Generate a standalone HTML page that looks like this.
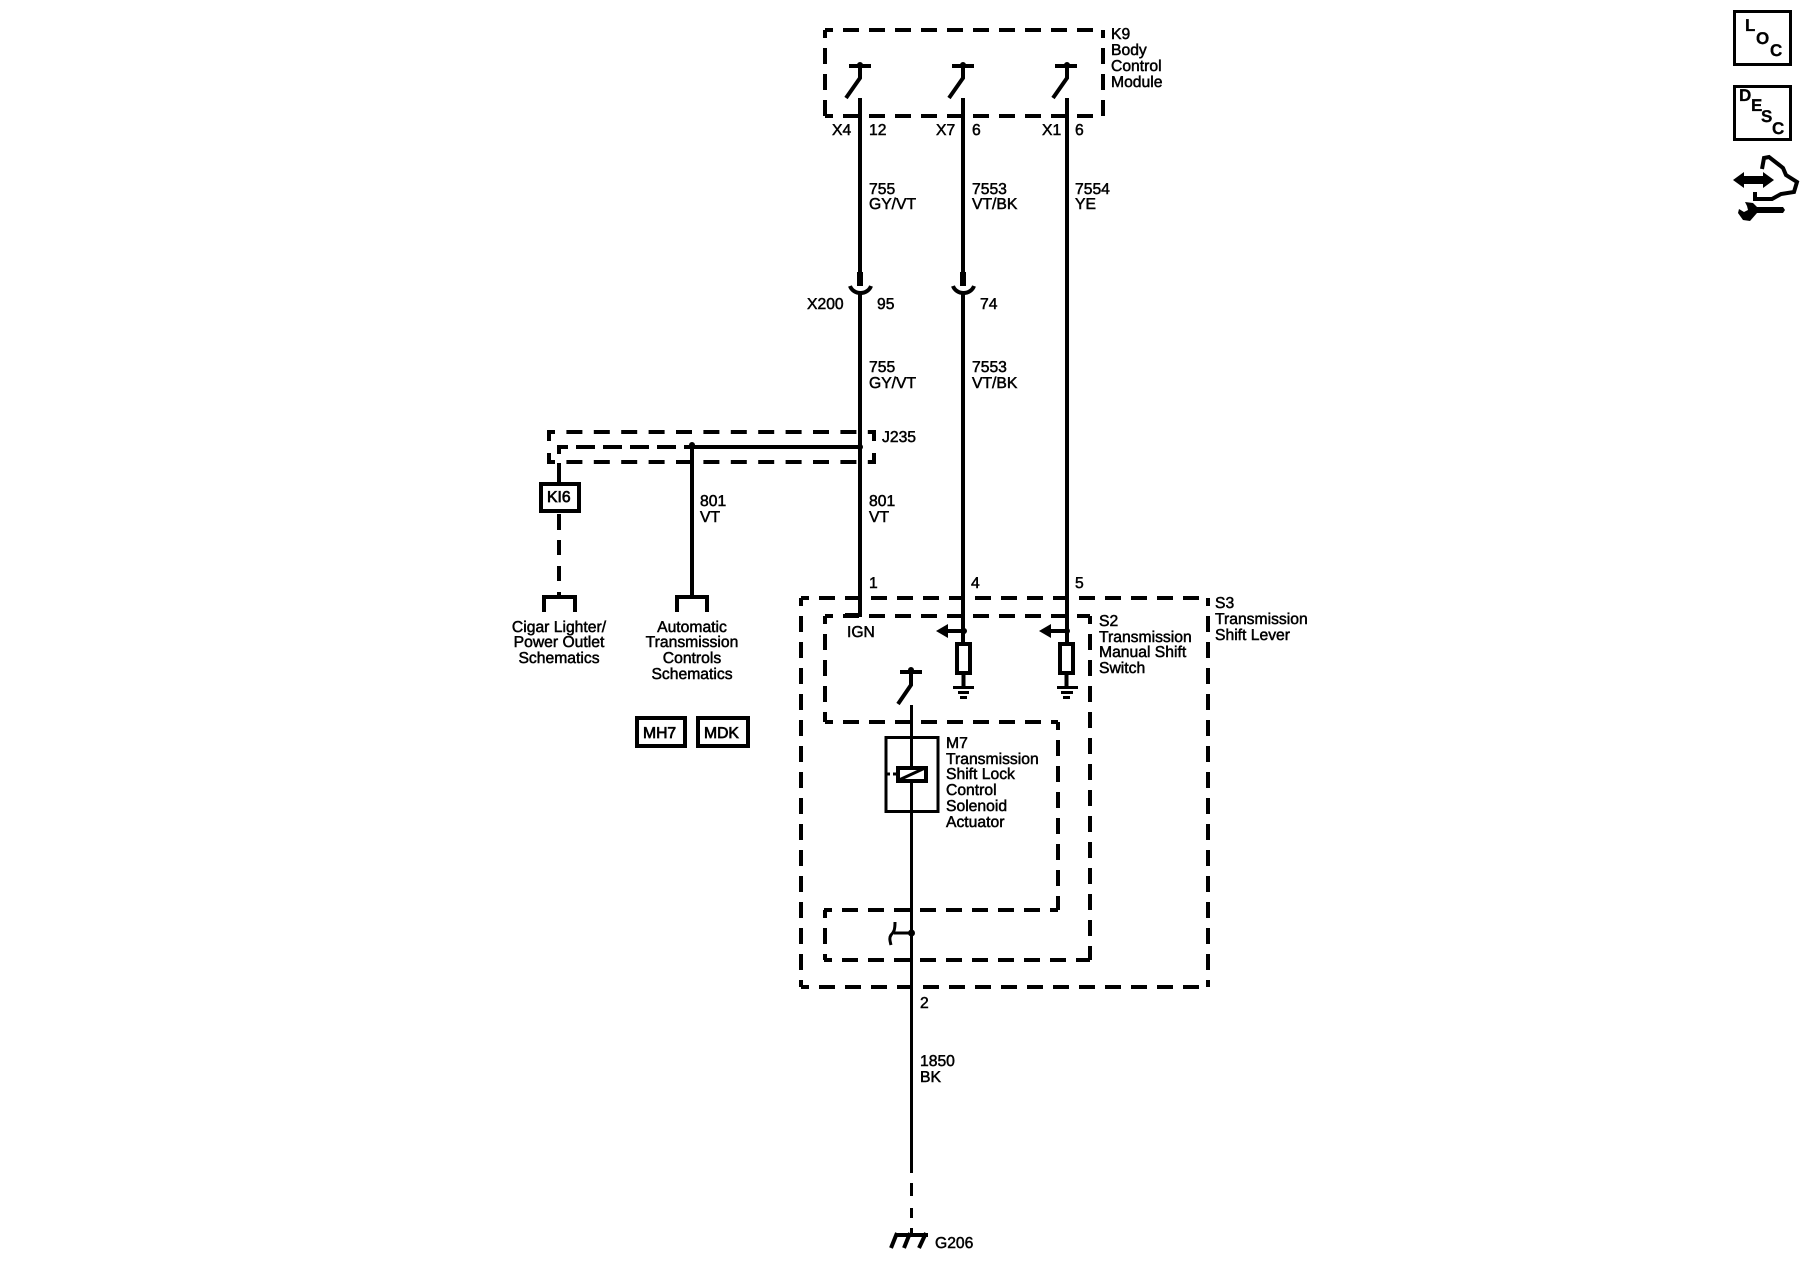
<!DOCTYPE html>
<html><head><meta charset="utf-8"><style>
html,body{margin:0;padding:0;background:#fff}
svg{display:block}
text{font-family:"Liberation Sans",sans-serif;font-size:15.7px;fill:#000;stroke:#000;stroke-width:.5px;text-rendering:geometricPrecision}
.m{text-anchor:middle}
.d{fill:none;stroke:#000;stroke-width:4;stroke-dasharray:16 10;stroke-dashoffset:8}
.j{fill:none;stroke:#000;stroke-width:4;stroke-dasharray:16 11.400;stroke-dashoffset:8}
.w{fill:none;stroke:#000;stroke-width:4}
.t{fill:none;stroke:#000;stroke-width:3}
.b{font-weight:bold;font-size:17px;stroke-width:.3px}
</style></head><body>
<svg width="1800" height="1280" viewBox="0 0 1800 1280" xmlns="http://www.w3.org/2000/svg">
<rect width="1800" height="1280" fill="#fff"/>

<!-- K9 -->
<path class="d" d="M825 30H1103"/><path class="d" d="M825 116H1103"/>
<path class="d" d="M825 30V116"/><path class="d" d="M1103 30V116"/>
<text x="1111" y="39">K9</text><text x="1111" y="55">Body</text><text x="1111" y="71">Control</text><text x="1111" y="87">Module</text>

<!-- K9 switches -->
<g id="sw">
<path class="w" d="M849 66H871"/><circle cx="860" cy="65" r="3"/><path class="w" d="M860 66V78L846 98"/>
<path class="w" d="M952 66H974"/><circle cx="963" cy="65" r="3"/><path class="w" d="M963 66V78L949 98"/>
<path class="w" d="M1055 66H1077"/><circle cx="1067" cy="65" r="3"/><path class="w" d="M1067 66V78L1053 98"/>
</g>

<!-- wires -->
<path class="w" d="M860 98V272M860 294V615H845"/>
<path class="w" d="M963 98V272M963 294V643"/>
<path class="w" d="M1067 98V643"/>
<path d="M857 272h6v14h-6zM960 272h6v14h-6z"/>
<path class="w" d="M850 286A11 10 0 0 0 871 286"/>
<path class="w" d="M953 286A11 10 0 0 0 974 286"/>

<text x="832" y="135">X4</text><text x="869" y="135">12</text>
<text x="936" y="135">X7</text><text x="972" y="135">6</text>
<text x="1042" y="135">X1</text><text x="1075" y="135">6</text>
<text x="869" y="194">755</text><text x="869" y="209">GY/VT</text>
<text x="972" y="194">7553</text><text x="972" y="209">VT/BK</text>
<text x="1075" y="194">7554</text><text x="1075" y="209">YE</text>
<text x="807" y="309">X200</text><text x="877" y="309">95</text><text x="980" y="309">74</text>
<text x="869" y="372">755</text><text x="869" y="388">GY/VT</text>
<text x="972" y="372">7553</text><text x="972" y="388">VT/BK</text>

<!-- J235 -->
<path class="j" d="M547 432H876"/><path class="j" d="M547 462H876"/>
<path class="w" d="M549 432V441M549 453V464"/>
<path class="w" d="M874 432V441M874 453V464"/>
<path d="M558 447H692" fill="none" stroke="#000" stroke-width="4" stroke-dasharray="19 8" stroke-dashoffset="9"/>
<path class="w" d="M559 445V454"/>
<path class="w" d="M692 447H860"/>
<circle cx="692" cy="445" r="3"/><circle cx="860" cy="447" r="3"/>
<path class="w" d="M692 447V597"/>
<text x="882" y="442">J235</text>

<!-- KI6 -->
<path d="M559 463V482" class="w"/>
<rect x="541" y="484" width="38" height="27" fill="#fff" stroke="#000" stroke-width="4"/>
<text x="547" y="502" style="stroke-width:.7px">KI6</text>
<path class="w" d="M559 514V530M559 540V555M559 566V581M559 592V597" />
<path class="w" d="M544 612V597H575V612"/>
<path class="w" d="M677 612V597H707V612"/>
<text class="m" x="559" y="632">Cigar Lighter/</text><text class="m" x="559" y="647">Power Outlet</text><text class="m" x="559" y="663">Schematics</text>
<text class="m" x="692" y="632">Automatic</text><text class="m" x="692" y="647">Transmission</text><text class="m" x="692" y="663">Controls</text><text class="m" x="692" y="679">Schematics</text>
<text x="700" y="506">801</text><text x="700" y="522">VT</text>
<text x="869" y="506">801</text><text x="869" y="522">VT</text>

<rect x="637" y="718" width="48" height="28" fill="none" stroke="#000" stroke-width="4"/>
<text x="643" y="738" style="stroke-width:.7px">MH7</text>
<rect x="698" y="718" width="50" height="28" fill="none" stroke="#000" stroke-width="4"/>
<text x="704" y="738" style="stroke-width:.7px">MDK</text>

<!-- S3 -->
<path class="d" d="M801 598H1208"/><path class="d" d="M801 987H1208"/>
<path class="d" d="M801 598V987"/><path class="d" d="M1208 598V987"/>
<text x="1215" y="608">S3</text><text x="1215" y="624">Transmission</text><text x="1215" y="640">Shift Lever</text>

<!-- S2 -->
<path class="d" d="M825 616H1090"/>
<path class="d" d="M825 616V722"/>
<path class="d" d="M825 722H1058"/>
<path class="d" d="M1058 722V910"/>
<path class="d" d="M824 910H1058"/>
<path class="d" d="M825 910V960"/>
<path class="d" d="M824 960H1090"/>
<path class="d" d="M1090 616V960"/>
<text x="1099" y="626">S2</text><text x="1099" y="642">Transmission</text><text x="1099" y="657">Manual Shift</text><text x="1099" y="673">Switch</text>

<text x="869" y="588">1</text><text x="971" y="588">4</text><text x="1075" y="588">5</text>
<text x="847" y="637">IGN</text>

<!-- arrows & resistors -->
<path d="M936 631L948 624V638Z"/><path class="w" d="M948 631H963"/><circle cx="964" cy="631" r="3"/>
<path d="M1039 631L1051 624V638Z"/><path class="w" d="M1051 631H1067"/><circle cx="1067" cy="631" r="3"/>
<rect x="957" y="644" width="13" height="29" fill="#fff" stroke="#000" stroke-width="4"/>
<rect x="1060" y="644" width="13" height="29" fill="#fff" stroke="#000" stroke-width="4"/>
<path class="w" d="M963.500 675V687M1066.500 675V687"/>
<path d="M953 686h21v3h-21zM958 691h11v3h-11zM960 696h7v3h-7zM1057 686h21v3h-21zM1061 691h12v3h-12zM1063 696h7v3h-7z"/>

<!-- lower switch + M7 -->
<path class="w" d="M900 672H922"/><circle cx="911" cy="670" r="3"/><path class="w" d="M911 672V685L898 704"/>
<path class="t" d="M911.500 705V1173M911.500 1183V1196M911.500 1208V1218M911.500 1228V1233"/>
<rect x="886" y="737.500" width="52" height="74" fill="none" stroke="#000" stroke-width="3"/>
<rect x="898" y="768" width="28" height="13" fill="#fff" stroke="#000" stroke-width="4"/>
<path d="M899 780L925 768" stroke="#000" stroke-width="3"/>
<path class="t" d="M886 774H890M893 774H896"/>
<text x="946" y="748">M7</text><text x="946" y="764">Transmission</text><text x="946" y="779">Shift Lock</text><text x="946" y="795">Control</text><text x="946" y="811">Solenoid</text><text x="946" y="827">Actuator</text>

<!-- bracket junction -->
<circle cx="911.500" cy="933" r="3.500"/>
<path class="t" d="M911 933H894"/>
<path class="t" d="M895 922C895 930 894 932 891 935C889 938 890 941 891 945"/>

<!-- bottom -->
<text x="920" y="1008">2</text>
<text x="920" y="1066">1850</text><text x="920" y="1082">BK</text>
<path class="w" d="M895 1235H928M897 1233L891 1248M910 1233L904 1248M926 1233L919 1248"/>
<text x="935" y="1248">G206</text>

<!-- icons -->
<rect x="1734.500" y="11.500" width="56" height="53" fill="none" stroke="#000" stroke-width="3"/>
<text class="b" x="1745" y="31">L</text><text class="b" x="1756" y="44">O</text><text class="b" x="1770" y="56">C</text>
<rect x="1734.500" y="86.500" width="56" height="53" fill="none" stroke="#000" stroke-width="3"/>
<text class="b" x="1739" y="101">D</text><text class="b" x="1751" y="111">E</text><text class="b" x="1761" y="122">S</text><text class="b" x="1772" y="134">C</text>
<path d="M1733 180L1744 172V176H1763V172L1774 180L1763 188V184H1744V188Z"/>
<path fill="none" stroke="#000" stroke-width="4" d="M1762 169L1764 158L1769 157L1778 164L1783 168L1786 175L1797 182L1794 192L1781 194L1772 199H1755V192"/>
<path d="M1745 202L1753 203L1757 207H1783L1785 210L1783 213H1757L1750 221L1743 220L1738 213L1739 209L1744 212L1748 210L1747 206Z"/>
</svg>
</body></html>
